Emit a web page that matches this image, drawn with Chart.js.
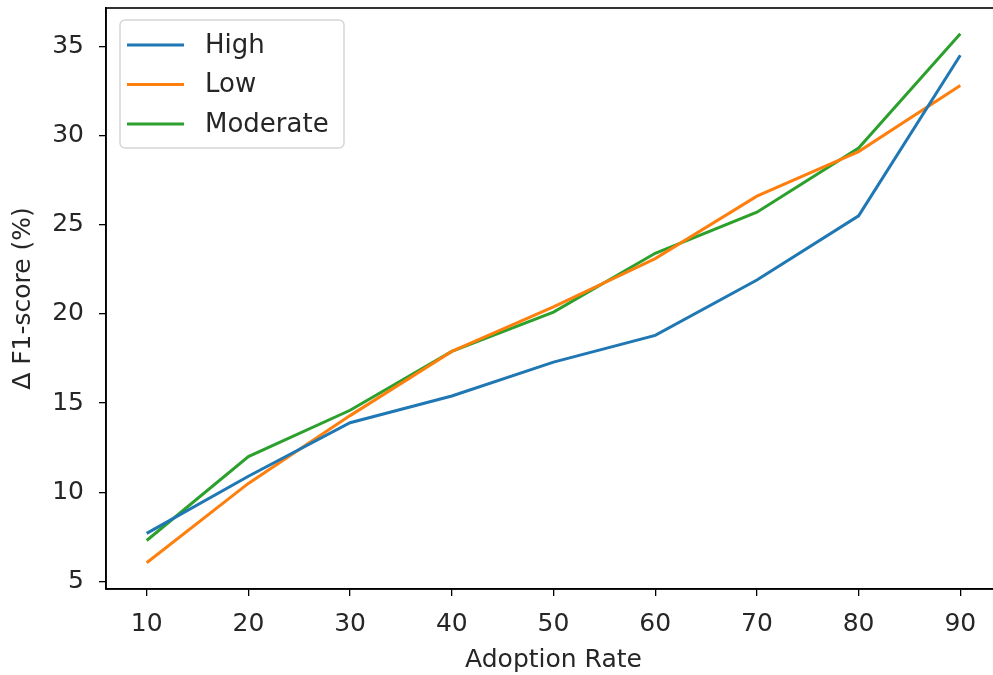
<!DOCTYPE html>
<html>
<head>
<meta charset="utf-8">
<script src="https://cdn.jsdelivr.net/npm/chart.js@4.4.1/dist/chart.umd.min.js"></script>
<style>
    html, body { margin: 0; padding: 0; background: #ffffff; overflow: hidden; }
    #wrap { width: 1010px; height: 675px; }
</style>
</head>
<body>
<div id="wrap"><canvas id="grafica" width="1010" height="675"></canvas></div>
<script>
// Datos
const adoptionRates = [10, 20, 30, 40, 50, 60, 70, 80, 90];
const highValues = [7.7, 10.9, 13.9, 15.4, 17.3, 18.8, 21.9, 25.5, 34.5];
const lowValues = [6.05, 10.5, 14.3, 17.9, 20.4, 23.1, 26.6, 29.1, 32.8];
const moderateValues = [7.3, 12.0, 14.6, 17.9, 20.1, 23.4, 25.7, 29.3, 35.7];
const xTicks = [10, 20, 30, 40, 50, 60, 70, 80, 90];
const yTicks = [5, 10, 15, 20, 25, 30, 35];

const fuente = { family: 'DejaVu Sans', size: 25 };

function serie(label, values, color) {
    return {
        label: label,
        data: adoptionRates.map(function (x, i) { return { x: x, y: values[i] }; }),
        borderColor: color,
        backgroundColor: color,
        borderWidth: 3,
        pointRadius: 0,
        tension: 0,
        fill: false,
    };
}

// Marco negro alrededor del area y leyenda dentro del grafico
const marcoYLeyenda = {
    id: 'marcoYLeyenda',
    afterDraw: function (chart) {
        const ctx = chart.ctx;
        const a = chart.chartArea;
        ctx.save();
        ctx.strokeStyle = '#000000';
        ctx.lineWidth = 1.6;
        ctx.strokeRect(a.left, a.top, a.right - a.left, a.bottom - a.top);

        const bx = a.left + 14;
        const by = a.top + 12;
        const bw = 224;
        const bh = 128;
        ctx.fillStyle = 'rgba(255,255,255,0.8)';
        ctx.strokeStyle = '#d6d6d6';
        ctx.lineWidth = 1.5;
        ctx.beginPath();
        ctx.roundRect(bx, by, bw, bh, 5);
        ctx.fill();
        ctx.stroke();

        ctx.font = '26px "DejaVu Sans"';
        ctx.textBaseline = 'middle';
        chart.data.datasets.forEach(function (ds, i) {
            const yy = by + 25 + i * 39.5;
            ctx.strokeStyle = ds.borderColor;
            ctx.lineWidth = 3;
            ctx.beginPath();
            ctx.moveTo(bx + 7, yy);
            ctx.lineTo(bx + 64, yy);
            ctx.stroke();
            ctx.fillStyle = '#262626';
            ctx.fillText(ds.label, bx + 85, yy + 1);
        });
        ctx.restore();
    },
};

new Chart(document.getElementById('grafica'), {
    type: 'line',
    data: {
        datasets: [
            serie('High', highValues, '#1f77b4'),
            serie('Low', lowValues, '#ff7f0e'),
            serie('Moderate', moderateValues, '#2ca02c'),
        ],
    },
    plugins: [marcoYLeyenda],
    options: {
        responsive: false,
        animation: false,
        layout: { padding: { top: 8, right: 9, bottom: 0, left: 0 } },
        plugins: {
            legend: { display: false },
            tooltip: { enabled: false },
        },
        scales: {
            x: {
                type: 'linear',
                min: 6,
                max: 94,
                afterBuildTicks: function (scale) {
                    scale.ticks = xTicks.map(function (v) { return { value: v }; });
                },
                afterFit: function (scale) {
                    scale.height = 86;
                    scale.paddingLeft = 0;
                    scale.paddingRight = 0;
                },
                grid: { drawOnChartArea: false, drawTicks: true, tickLength: 7, color: '#000000', lineWidth: 1.3 },
                border: { display: true, color: '#000000', width: 1.6 },
                ticks: { color: '#262626', font: fuente, padding: 13, maxRotation: 0, autoSkip: false },
                title: { display: true, text: 'Adoption Rate', color: '#262626', font: fuente, padding: { top: 2, bottom: 0 } },
            },
            y: {
                type: 'linear',
                min: 4.58,
                max: 37.15,
                afterBuildTicks: function (scale) {
                    scale.ticks = yTicks.map(function (v) { return { value: v }; });
                },
                afterFit: function (scale) {
                    scale.width = 106;
                    scale.paddingTop = 0;
                    scale.paddingBottom = 0;
                },
                grid: { drawOnChartArea: false, drawTicks: true, tickLength: 7, color: '#000000', lineWidth: 1.3 },
                border: { display: true, color: '#000000', width: 1.6 },
                ticks: { color: '#262626', font: fuente, padding: 15, autoSkip: false },
                title: { display: true, text: 'Δ F1-score (%)', color: '#262626', font: fuente, padding: { top: 8, bottom: 8 } },
            },
        },
    },
});
</script>
</body>
</html>
